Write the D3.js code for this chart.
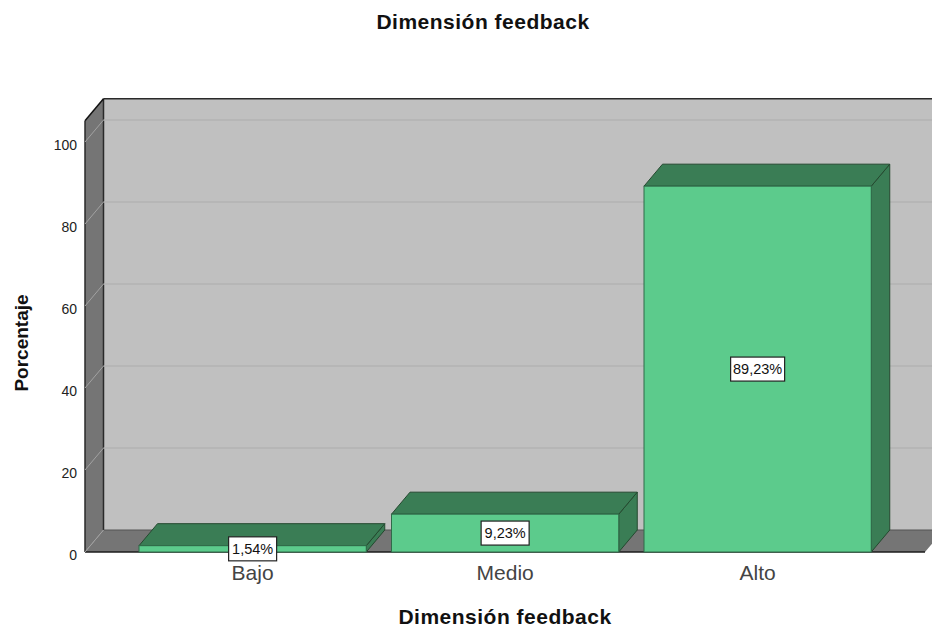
<!DOCTYPE html>
<html>
<head>
<meta charset="utf-8">
<script src="https://cdn.jsdelivr.net/npm/d3@7"></script>
<style>
html,body{margin:0;padding:0;background:#fff}
svg{display:block}
text{font-family:"Liberation Sans",Arial,sans-serif}
</style>
</head>
<body>
<svg id="chart" width="932" height="628"></svg>
<script>
const categories = ["Bajo", "Medio", "Alto"];
const percentages = [1.54, 9.23, 89.23];
const valueLabels = ["1,54%", "9,23%", "89,23%"];
const yTicks = [0, 20, 40, 60, 80, 100];
const chartTitle = "Dimensión feedback";
const xTitle = "Dimensión feedback";
const yTitle = "Porcentaje";

const svg = d3.select("#chart");
const y = d3.scaleLinear().domain([0, 100]).range([552, 142]);
const x = d3.scaleBand().domain(categories).range([113.75, 896.5]).padding(0.1);

// Oblique offset of the 3D box
const depthX = 18.5, depthY = -22;
const yMax = 105.2;
const frontLeft = 85, frontRight = 925;
const poly = pts => pts.map(p => p.join(",")).join(" ");

const frame = svg.append("g");
// Back wall
frame.append("rect")
  .attr("x", frontLeft + depthX).attr("y", y(yMax) + depthY)
  .attr("width", 932 - frontLeft - depthX).attr("height", y(0) - y(yMax))
  .attr("fill", "#c0c0c0");
// Left wall and floor
frame.append("polygon")
  .attr("points", poly([[frontLeft, y(yMax)], [frontLeft + depthX, y(yMax) + depthY],
    [frontLeft + depthX, y(0) + depthY], [frontLeft, y(0)]]))
  .attr("fill", "#757575");
frame.append("polygon")
  .attr("points", poly([[frontLeft, y(0)], [frontLeft + depthX, y(0) + depthY],
    [frontRight + depthX, y(0) + depthY], [frontRight, y(0)]]))
  .attr("fill", "#757575");

// Gridlines on the back wall and the left wall
const grid = svg.append("g");
grid.selectAll("line.back").data(yTicks.slice(1)).join("line")
  .attr("class", "back")
  .attr("x1", frontLeft + depthX).attr("x2", 932)
  .attr("y1", d => y(d) + depthY).attr("y2", d => y(d) + depthY)
  .attr("stroke", "#b3b3b3").attr("stroke-width", 1.4);
grid.selectAll("line.side").data(yTicks).join("line")
  .attr("class", "side")
  .attr("x1", frontLeft).attr("x2", frontLeft + depthX)
  .attr("y1", d => y(d)).attr("y2", d => y(d) + depthY)
  .attr("stroke", "#a2a2a2").attr("stroke-width", 1);

// Frame edges
const edge = (x1, y1, x2, y2, c, w) => frame.append("line")
  .attr("x1", x1).attr("y1", y1).attr("x2", x2).attr("y2", y2)
  .attr("stroke", c).attr("stroke-width", w);
edge(frontLeft + depthX, y(yMax) + depthY, 932, y(yMax) + depthY, "#2a2a2a", 1.5);
edge(frontLeft + depthX, y(yMax) + depthY, frontLeft + depthX, y(0) + depthY, "#2a2a2a", 1.5);
edge(frontLeft, y(yMax), frontLeft + depthX, y(yMax) + depthY, "#111", 1.5);
edge(frontLeft, y(yMax), frontLeft, y(0), "#2a2a2a", 1.5);
edge(frontLeft + depthX, y(0) + depthY, 932, y(0) + depthY, "#555", 1);

// Bars: right side, top, then front face
const bars = svg.append("g").selectAll("g").data(percentages).join("g");
const x0 = (d, i) => x(categories[i]);
const x1 = (d, i) => x(categories[i]) + x.bandwidth();
bars.append("polygon")
  .attr("points", (d, i) => poly([[x1(d, i), y(d)], [x1(d, i) + depthX, y(d) + depthY],
    [x1(d, i) + depthX, y(0) + depthY], [x1(d, i), y(0)]]))
  .attr("fill", "#3a7d55").attr("stroke", "#24492f").attr("stroke-width", 1);
bars.append("polygon")
  .attr("points", (d, i) => poly([[x0(d, i), y(d)], [x0(d, i) + depthX, y(d) + depthY],
    [x1(d, i) + depthX, y(d) + depthY], [x1(d, i), y(d)]]))
  .attr("fill", "#3a7d55").attr("stroke", "#24492f").attr("stroke-width", 1);
bars.append("rect")
  .attr("x", x0).attr("y", d => y(d))
  .attr("width", x.bandwidth()).attr("height", d => y(0) - y(d))
  .attr("fill", "#5ccb8c").attr("stroke", "#2f6b49").attr("stroke-width", 1);

// Baseline
edge(frontLeft, y(0), frontRight, y(0), "#1c1c1c", 1.6);

// Value labels in white boxes, centred on the front faces
const boxes = svg.append("g").selectAll("g").data(percentages).join("g")
  .attr("transform", (d, i) => `translate(${x(categories[i]) + x.bandwidth() / 2},${(y(d) + y(0)) / 2})`);
boxes.append("rect")
  .attr("x", (d, i) => i === 2 ? -27 : -24).attr("y", -12)
  .attr("width", (d, i) => i === 2 ? 54 : 48).attr("height", 24)
  .attr("fill", "#fff").attr("stroke", "#222").attr("stroke-width", 1.2);
boxes.append("text")
  .attr("text-anchor", "middle").attr("dy", "0.36em")
  .attr("font-size", 14.5).attr("fill", "#111")
  .text((d, i) => valueLabels[i]);

// Value axis
const yAxis = svg.append("g")
  .attr("transform", `translate(${frontLeft},0)`)
  .call(d3.axisLeft(y).tickValues(yTicks).tickSize(0).tickPadding(8));
yAxis.select(".domain").remove();
yAxis.selectAll("text").attr("font-size", 14).attr("fill", "#222")
  .style("font-family", '"Liberation Sans",Arial,sans-serif');
yAxis.selectAll(".tick text").attr("dy", "0.5em");

// Category axis
const xAxis = svg.append("g")
  .attr("transform", `translate(0,${y(0)})`)
  .call(d3.axisBottom(x).tickSize(0).tickPadding(13));
xAxis.select(".domain").remove();
xAxis.selectAll("text").attr("font-size", 21).attr("fill", "#444")
  .style("font-family", '"Liberation Sans",Arial,sans-serif');

// Titles
svg.append("text").attr("x", 483).attr("y", 29).attr("text-anchor", "middle")
  .attr("font-size", 21).attr("letter-spacing", 0.5).attr("font-weight", "bold").attr("fill", "#111").text(chartTitle);
svg.append("text").attr("x", 505).attr("y", 624).attr("text-anchor", "middle")
  .attr("font-size", 21).attr("letter-spacing", 0.5).attr("font-weight", "bold").attr("fill", "#111").text(xTitle);
svg.append("text").attr("transform", "translate(28,343) rotate(-90)").attr("text-anchor", "middle")
  .attr("font-size", 19).attr("font-weight", "bold").attr("fill", "#111").text(yTitle);
</script>
</body>
</html>
